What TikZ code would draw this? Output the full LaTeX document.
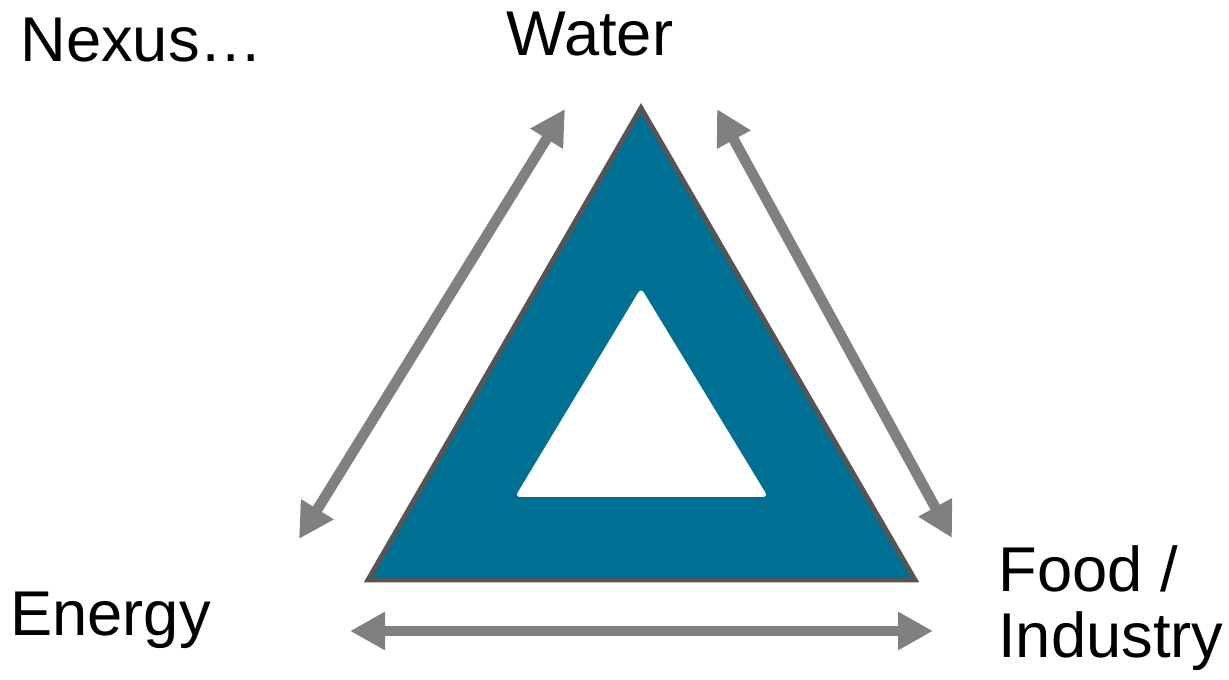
\documentclass[tikz,border=0pt]{standalone}
\usepackage{fontspec}
\setmainfont{Liberation Sans}
\usetikzlibrary{arrows.meta}
\definecolor{nexusteal}{RGB}{0,111,148}
\definecolor{rimgrey}{RGB}{85,85,85}
\definecolor{linkgrey}{RGB}{128,128,128}
\tikzset{
  label/.style={font=\fontsize{36}{38}\selectfont, inner sep=0pt, align=left},
  outertri/.style={draw=rimgrey, line width=0.1cm, fill=nexusteal},
  innertri/.style={fill=white, rounded corners=3pt},
  link/.style={draw=linkgrey, line width=0.21cm,
    {Triangle[length=0.7cm, width=0.72cm]}-{Triangle[length=0.7cm, width=0.72cm]}}
}
\begin{document}
\begin{tikzpicture}
  \useasboundingbox (0,0) rectangle (24.58,13.6);
  \node[label, anchor=base west] (nexus) at (0.4,12.36) {Nexus…};
  \node[label, anchor=base] (water) at (11.8,12.48) {Water};
  \node[label, anchor=base west] (energy) at (0.2,0.88) {Energy};
  \node[label, anchor=base west] (food) at (19.96,0.44) {Food /\\Industry};
  \coordinate (top) at (12.82,11.44);
  \coordinate (left) at (7.36,2.0);
  \coordinate (right) at (18.3,2.0);
  \draw[outertri] (top) -- (left) -- (right) -- cycle;
  \fill[innertri] (12.82,7.84) -- (10.30,3.66) -- (15.36,3.66) -- cycle;
  \coordinate (ew) at (5.98,2.82);
  \coordinate (we) at (11.30,11.42);
  \coordinate (wf) at (14.34,11.42);
  \coordinate (fw) at (19.04,2.84);
  \coordinate (ef) at (7.0,0.98);
  \coordinate (fe) at (18.66,0.98);
  \draw[link] (ew) -- (we);
  \draw[link] (wf) -- (fw);
  \draw[link] (ef) -- (fe);
\end{tikzpicture}
\end{document}
